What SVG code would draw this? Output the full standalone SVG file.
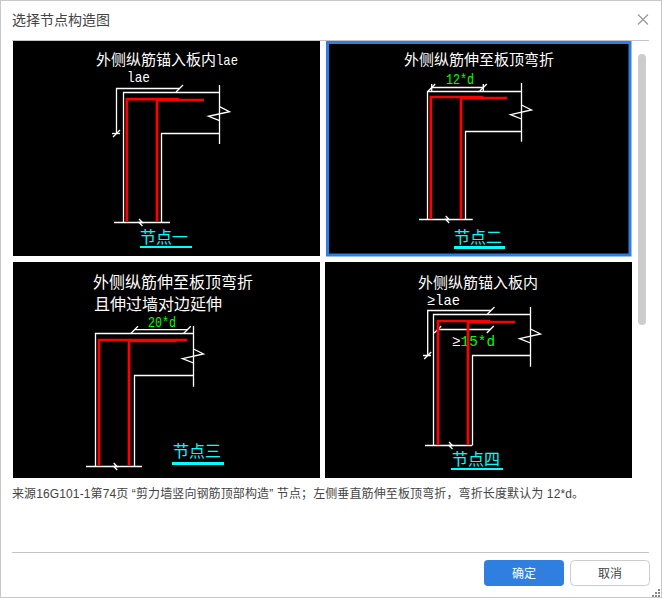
<svg xmlns="http://www.w3.org/2000/svg" xmlns:xlink="http://www.w3.org/1999/xlink" width="662" height="598" viewBox="0 0 662 598">
<style>
.cad{font-family:"Noto Sans CJK SC","Liberation Sans",sans-serif;fill:#fff}
.t15{font-size:15px}.t16{font-size:16px}
.mono{font-family:"Liberation Mono",monospace;font-size:15px}
.green{fill:#0f0}
.cy{font-family:"Noto Sans CJK SC",sans-serif;font-size:16px;fill:#0ff}
.ul{fill:#0ff}
.w{fill:none;stroke:#fff;stroke-width:1.3}
.r{fill:none;stroke:#f00;stroke-width:2.7}
.ui{font-family:"Liberation Sans","Noto Sans CJK SC",sans-serif;fill:#444}
</style>
<defs>
<path id="zig" class="w" d="M0 0L10 5-11 9.6 0 14"/>
<path id="tick" class="w" d="M-3.5 3.500L3.500-3.500"/>
<path id="brk" class="w" d="M-1-3.500L2.500 0-1 0 2.500 3.500"/>
</defs>
<rect x="0.5" y="0.5" width="661" height="597" fill="#fff" stroke="#c8c8c8"/>
<g id="header">
<text class="ui" x="12" y="25" font-size="14">选择节点构造图</text>
<path d="M638 14.500l10 10m0-10l-10 10" fill="none" stroke="#999" stroke-width="1.200"/>
<path d="M12 40.500H649" stroke="#c4c4c4" fill="none"/>
</g>
<g id="panel-1">
<rect x="13" y="41" width="307" height="215" fill="#000"/>
<text class="cad t15" x="96" y="65">外侧纵筋锚入板内</text>
<text class="cad mono" x="216" y="65" textLength="22" lengthAdjust="spacingAndGlyphs">lae</text>
<text class="cad mono" x="127" y="82" textLength="23" lengthAdjust="spacingAndGlyphs">lae</text>
<path class="w" d="M114 222.500H170M123.500 222.500V92.500H219.500M219.500 85V144M161.500 222.500V133.500H219.500M116.500 133.500V88.500H179.500"/>
<use xlink:href="#zig" x="219.500" y="106.700"/>
<use xlink:href="#tick" x="179.500" y="88.500"/>
<use xlink:href="#tick" x="116.500" y="133.500"/>
<path class="w" d="M112 133.500H120"/>
<use xlink:href="#brk" x="140" y="222.500"/>
<path class="r" d="M126.800 222V99.200H179"/>
<path class="r" d="M157 222V100H204"/>
<text class="cy" x="140" y="243">节点一</text>
<rect class="ul" x="140" y="246" width="52" height="2"/>
</g>
<g id="panel-2">
<rect x="327.500" y="42.500" width="302.500" height="212.500" fill="#000" stroke="#2e7fe0" stroke-width="3"/>
<text class="cad t15" x="404" y="65">外侧纵筋伸至板顶弯折</text>
<text class="cad mono green" x="446" y="83.500" textLength="28" lengthAdjust="spacingAndGlyphs">12*d</text>
<path class="w" d="M419 219.500H472.700M427.500 219.500V91.500H521.500M521.500 83V141.700M465.500 219.500V131.500H521.500M431.700 87.500H483.300"/>
<use xlink:href="#zig" x="521.500" y="105"/>
<use xlink:href="#tick" x="431.700" y="87.500"/>
<use xlink:href="#tick" x="483.300" y="87.500"/>
<path class="w" d="M431.700 84V91M483.300 84V91"/>
<use xlink:href="#brk" x="446.700" y="219.500"/>
<path class="r" d="M430.800 219V97H483"/>
<path class="r" d="M461 219V98H507"/>
<text class="cy" x="454" y="243">节点二</text>
<rect class="ul" x="454" y="246" width="51" height="3"/>
</g>
<g id="panel-3">
<rect x="13" y="262" width="307" height="216" fill="#000"/>
<text class="cad t16" x="93" y="288">外侧纵筋伸至板顶弯折</text>
<text class="cad t16" x="94" y="310">且伸过墙对边延伸</text>
<text class="cad mono green" x="148" y="326.500" textLength="28" lengthAdjust="spacingAndGlyphs">20*d</text>
<path class="w" d="M86 466.500H142M95.500 466.500V333.500H193.500M193.500 326V386.700M134.500 466.500V375.500H193.500M134.500 329.700H187.300"/>
<use xlink:href="#zig" x="193.500" y="349"/>
<use xlink:href="#tick" x="134.500" y="329.700"/>
<use xlink:href="#tick" x="187.300" y="329.700"/>
<use xlink:href="#brk" x="114.700" y="466.500"/>
<path class="r" d="M99 466V340H187.300"/>
<path class="r" d="M129 466V341H176.700"/>
<text class="cy" x="173" y="457">节点三</text>
<rect class="ul" x="172" y="462" width="52" height="3"/>
</g>
<g id="panel-4">
<rect x="325" y="262" width="307" height="216" fill="#000"/>
<text class="cad t15" x="418" y="288">外侧纵筋锚入板内</text>
<text class="cad mono" x="427" y="305" textLength="33" lengthAdjust="spacingAndGlyphs">≥lae</text>
<text class="cad mono" x="452" y="346" textLength="43" lengthAdjust="spacingAndGlyphs">≥<tspan class="green">15*d</tspan></text>
<path class="w" d="M425 445.500H472M433.500 445.500V314.500H530.500M530.500 307V366.700M472.500 445.500V355.500H530.500M427.700 355V310.500H491M437.700 329.500H490.300M423 355.500H431"/>
<use xlink:href="#zig" x="530.500" y="329"/>
<use xlink:href="#tick" x="491" y="310.500"/>
<use xlink:href="#tick" x="437.700" y="329.500"/>
<use xlink:href="#tick" x="490.300" y="329.500"/>
<use xlink:href="#tick" x="427.700" y="355.500"/>
<use xlink:href="#brk" x="450" y="445.500"/>
<path class="r" d="M438 445V321H490"/>
<path class="r" d="M468 445V322H515"/>
<text class="cy" x="452" y="465">节点四</text>
<rect class="ul" x="451" y="468" width="52" height="2"/>
</g>
<g id="scrollbar"><rect x="638" y="54" width="8" height="271" rx="4" fill="#ccc"/></g>
<g id="footer">
<text class="ui" x="12" y="498" font-size="12" textLength="572">来源16G101-1第74页 “剪力墙竖向钢筋顶部构造” 节点；左侧垂直筋伸至板顶弯折，弯折长度默认为 12*d。</text>
<path d="M12 552.500H649" stroke="#c4c4c4" fill="none"/>
<rect x="484" y="560" width="80" height="26" rx="4" fill="#2e7fe0"/>
<text class="ui" x="524" y="578" font-size="12" text-anchor="middle" style="fill:#fff">确定</text>
<rect x="570.500" y="560.500" width="79" height="25" rx="4" fill="#fff" stroke="#ccc"/>
<text class="ui" x="610" y="578" font-size="12" text-anchor="middle">取消</text>
<path d="M658 589h2v2h-2zM655 592h2v2h-2zM658 592h2v2h-2zM652 595h2v2h-2zM655 595h2v2h-2zM658 595h2v2h-2z" fill="#888"/>
</g>
</svg>
